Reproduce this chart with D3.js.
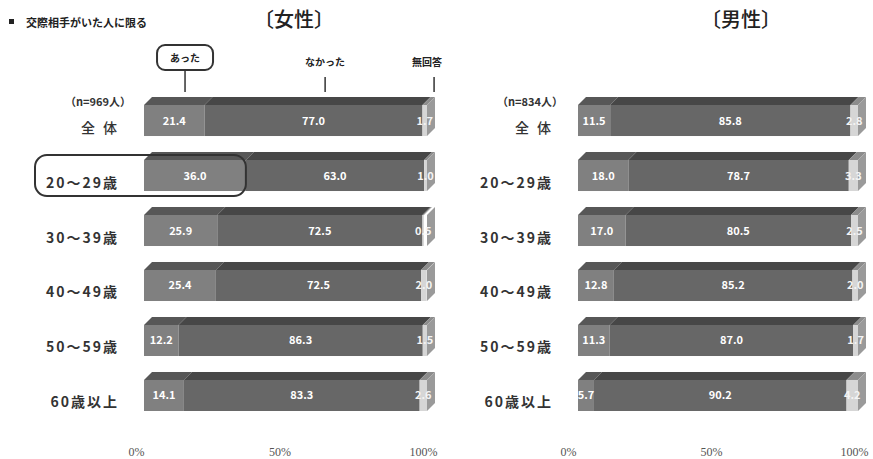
<!DOCTYPE html>
<html>
<head>
<meta charset="utf-8">
<script src="https://cdn.jsdelivr.net/npm/d3@7"></script>
<style>
  body { margin: 0; background: #fff; }
  text { font-family: "Noto Sans CJK JP", "Noto Sans", sans-serif; }
</style>
</head>
<body>
<svg width="873" height="459"></svg>
<script>
var canvas = d3.select("svg");

// data
var categories = ["全体", "20～29歳", "30～39歳", "40～49歳", "50～59歳", "60歳以上"];
var femaleYes = [21.4, 36.0, 25.9, 25.4, 12.2, 14.1];
var femaleNo = [77.0, 63.0, 72.5, 72.5, 86.3, 83.3];
var femaleNA = [1.7, 1.0, 0.5, 2.0, 1.5, 2.6];
var maleYes = [11.5, 18.0, 17.0, 12.8, 11.3, 5.7];
var maleNo = [85.8, 78.7, 80.5, 85.2, 87.0, 90.2];
var maleNA = [2.8, 3.3, 2.5, 2.0, 1.7, 4.2];
var tickValues = [0, 50, 100];

var colorFront = ["#808080", "#676767", "#d6d6d6"];
var colorTop = ["#575757", "#474747", "#8c8c8c"];
var colorSide = "#9a9a9a";
var depthX = 8, depthY = 8;

var yScale = d3.scaleBand()
    .domain(categories)
    .range([105, 411])
    .paddingInner(0.436)
    .paddingOuter(0);

canvas.append("rect").attr("width", 873).attr("height", 459).attr("fill", "#fff");

// push a text so its right edge sits at x
function alignRight(sel, x) {
    sel.each(function () {
        var t = d3.select(this).attr("text-anchor", "start").attr("x", 0);
        var b = this.getBBox();
        t.attr("x", x - b.width - b.x);
    });
}

function drawPanel(opt) {
    var xScale = d3.scaleLinear().domain([0, 100]).range(opt.range);
    var axisScale = d3.scaleLinear().domain([0, 100]).range(opt.axisRange);
    var g = canvas.append("g");

    var rows = categories.map(function (c, i) {
        var vals = [opt.yes[i], opt.no[i], opt.na[i]];
        var start = 0;
        var segs = vals.map(function (v, k) {
            var s = { k: k, v: v, x0: start, x1: Math.min(100, start + v) };
            start += v;
            return s;
        });
        return { name: c, segs: segs };
    });

    var bars = g.selectAll("g.bar")
        .data(rows)
        .enter()
        .append("g")
        .attr("class", "bar");

    var h = yScale.bandwidth();

    // top faces
    bars.selectAll("path.top")
        .data(d => d.segs.map(s => Object.assign({ name: d.name }, s)))
        .enter()
        .append("path")
        .attr("d", function (s) {
            var y = yScale(s.name);
            var a = xScale(s.x0), b = xScale(s.x1);
            return "M" + a + "," + y + "L" + (a + depthX) + "," + (y - depthY) +
                "L" + (b + depthX) + "," + (y - depthY) + "L" + b + "," + y + "Z";
        })
        .attr("fill", s => colorTop[s.k]);

    // right side face
    bars.append("path")
        .attr("d", function (d) {
            var y = yScale(d.name);
            var b = xScale(100);
            return "M" + b + "," + y + "L" + (b + depthX) + "," + (y - depthY) +
                "L" + (b + depthX) + "," + (y + h - depthY) + "L" + b + "," + (y + h) + "Z";
        })
        .attr("fill", colorSide);

    // front faces
    bars.selectAll("rect.front")
        .data(d => d.segs.map(s => Object.assign({ name: d.name }, s)))
        .enter()
        .append("rect")
        .attr("x", s => xScale(s.x0))
        .attr("y", s => yScale(s.name))
        .attr("width", s => xScale(s.x1) - xScale(s.x0))
        .attr("height", h)
        .attr("fill", s => colorFront[s.k]);

    // values
    bars.selectAll("text.val")
        .data(d => d.segs.map(s => Object.assign({ name: d.name }, s)))
        .enter()
        .append("text")
        .attr("x", s => (xScale(s.x0) + xScale(s.x1)) / 2)
        .attr("y", s => yScale(s.name) + h / 2 + 4)
        .attr("text-anchor", "middle")
        .attr("font-size", 11)
        .attr("font-weight", "bold")
        .attr("fill", s => s.k == 2 ? "#f4f4f4" : "#fff")
        .text(s => s.v.toFixed(1));

    // row labels
    var cats = g.selectAll("text.cat")
        .data(categories.slice(1))
        .enter()
        .append("text")
        .attr("y", d => yScale(d) + h / 2 + 12)
        .attr("font-size", 14)
        .attr("font-weight", "bold")
        .attr("letter-spacing", 2)
        .attr("fill", "#333")
        .text(d => d);
    alignRight(cats, opt.labelX + 2);

    var total = g.append("text")
        .attr("y", yScale(categories[0]) + h / 2 + 12)
        .attr("font-size", 14)
        .attr("font-weight", 500)
        .attr("letter-spacing", 8)
        .attr("fill", "#333")
        .text(categories[0]);
    alignRight(total, opt.labelX + 8);

    var nLabel = g.append("text")
        .attr("y", yScale(categories[0]) + 1)
        .attr("font-size", 11)
        .attr("font-weight", "bold")
        .attr("fill", "#333")
        .text(opt.n);
    alignRight(nLabel, opt.nX);

    // title
    g.append("text")
        .attr("x", opt.titleX)
        .attr("y", 27)
        .attr("text-anchor", "middle")
        .attr("font-size", 20)
        .attr("font-weight", 500)
        .attr("fill", "#222")
        .text(opt.title);

    // axis
    var axis = g.append("g")
        .attr("transform", "translate(0,444)")
        .call(d3.axisBottom(axisScale).tickValues(tickValues).tickSize(0).tickFormat(d => d + "%"));
    axis.select(".domain").remove();
    axis.selectAll("text")
        .attr("font-size", 12)
        .attr("fill", "#555")
        .style("font-family", "\"Liberation Serif\", serif");

    return xScale;
}

var xLeft = drawPanel({
    range: [144, 427], axisRange: [136, 423],
    yes: femaleYes, no: femaleNo, na: femaleNA,
    labelX: 117, nX: 131, n: "（n=969人）",
    title: "〔女性〕", titleX: 294
});

drawPanel({
    range: [578, 858], axisRange: [568, 854],
    yes: maleYes, no: maleNo, na: maleNA,
    labelX: 551, nX: 563, n: "（n=834人）",
    title: "〔男性〕", titleX: 741
});

// note at top-left
canvas.append("rect").attr("x", 9).attr("y", 19).attr("width", 5).attr("height", 5).attr("fill", "#222");
canvas.append("text")
    .attr("x", 26).attr("y", 27)
    .attr("font-size", 11).attr("font-weight", "bold").attr("fill", "#222")
    .text("交際相手がいた人に限る");

// series callouts over the first female bar
var callouts = [
    { label: "あった", at: 14.5, boxed: true },
    { label: "なかった", at: 64, boxed: false },
    { label: "無回答", at: 102.5, boxed: false }
];
var cg = canvas.append("g");
callouts.forEach(function (c) {
    var x = xLeft(c.at);
    if (c.boxed) {
        cg.append("rect")
            .attr("x", x - 28).attr("y", 45).attr("width", 56).attr("height", 25)
            .attr("rx", 8).attr("fill", "#fff").attr("stroke", "#333").attr("stroke-width", 2);
        cg.append("line")
            .attr("x1", x).attr("x2", x).attr("y1", 70).attr("y2", 92)
            .attr("stroke", "#333").attr("stroke-width", 1.5);
        cg.append("text")
            .attr("x", x).attr("y", 62).attr("text-anchor", "middle")
            .attr("font-size", 10).attr("font-weight", "bold").attr("fill", "#222")
            .text(c.label);
    } else {
        cg.append("line")
            .attr("x1", x).attr("x2", x).attr("y1", 77).attr("y2", 92)
            .attr("stroke", "#333").attr("stroke-width", 1.5);
        cg.append("text")
            .attr("x", x - (c.at > 100 ? 7 : 0)).attr("y", 66).attr("text-anchor", "middle")
            .attr("font-size", 10).attr("font-weight", "bold").attr("fill", "#222")
            .text(c.label);
    }
});

// highlight around the 20-29 row
var hy = yScale(categories[1]);
canvas.append("rect")
    .attr("x", 35).attr("y", hy - 5)
    .attr("width", xLeft(femaleYes[1]) - 35)
    .attr("height", yScale.bandwidth() + 10)
    .attr("rx", 12)
    .attr("fill", "none")
    .attr("stroke", "#333")
    .attr("stroke-width", 2);
</script>
</body>
</html>
